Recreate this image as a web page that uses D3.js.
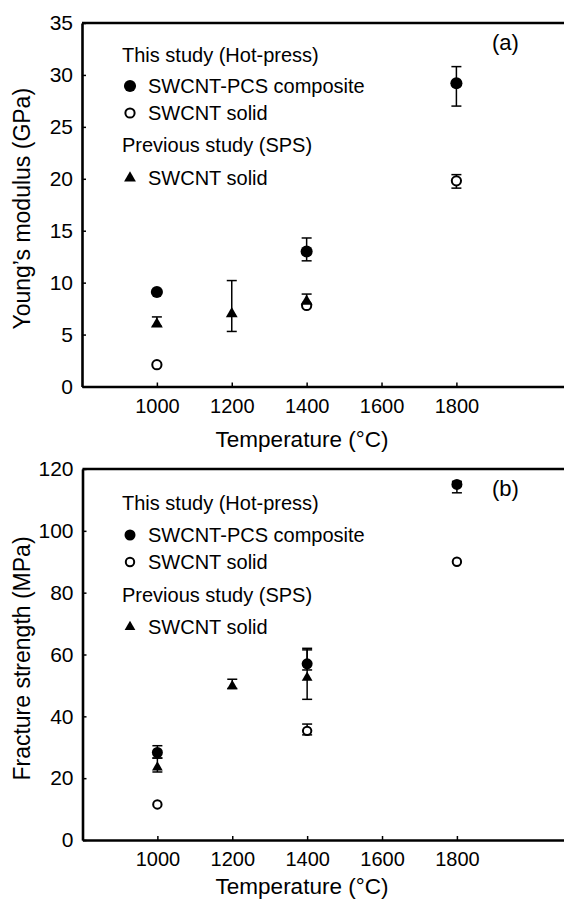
<!DOCTYPE html>
<html>
<head>
<meta charset="utf-8">
<script src="https://cdn.jsdelivr.net/npm/d3@7"></script>
<style>
  body { margin: 0; background: #fff; }
  svg { display: block; font-family: "Liberation Sans", Arial, sans-serif; }
</style>
</head>
<body>
<svg id="chart" width="564" height="901"></svg>
<script>
// temperatures (C)
var hpTemps = [1000, 1400, 1800];
var spsTemps = [1000, 1200, 1400];
var xTicks = [1000, 1200, 1400, 1600, 1800];

// (a) Young's modulus, GPa
var modComposite = [9.1, 13.0, 29.2];
var modCompositeLo = [9.1, 12.1, 27.0];
var modCompositeHi = [9.1, 14.3, 30.8];
var modSolid = [2.1, 7.8, 19.8];
var modSolidLo = [2.1, 7.8, 19.1];
var modSolidHi = [2.1, 7.8, 20.4];
var modSps = [6.0, 7.0, 8.2];
var modSpsLo = [5.8, 5.3, 7.8];
var modSpsHi = [6.7, 10.2, 8.9];
var modTicks = [0, 5, 10, 15, 20, 25, 30, 35];

// (b) fracture strength, MPa
var strComposite = [28.3, 57.0, 115.0];
var strCompositeLo = [26.5, 55.0, 112.3];
var strCompositeHi = [30.5, 61.5, 116.0];
var strSolid = [11.5, 35.3, 90.0];
var strSolidLo = [11.5, 34.0, 90.0];
var strSolidHi = [11.5, 37.5, 90.0];
var strSps = [23.5, 49.8, 52.5];
var strSpsLo = [22.0, 49.0, 45.5];
var strSpsHi = [26.5, 52.0, 62.0];
var strTicks = [0, 20, 40, 60, 80, 100, 120];

var legendText = ["This study (Hot-press)", "SWCNT-PCS composite", "SWCNT solid", "Previous study (SPS)", "SWCNT solid"];

var svg = d3.select("#chart");

function pack(xs, ys, lo, hi) {
  return xs.map(function(x, i) { return {x: x, y: ys[i], lo: lo[i], hi: hi[i]}; });
}

function drawPanel(p) {
  var x = d3.scaleLinear().domain([800, 2100]).range([p.left, p.left + 1300 * 0.3744]);
  var y = d3.scaleLinear().domain([0, p.ymax]).range([p.bottom, p.top]);
  var g = svg.append("g");

  // x axis, ticks point inward
  var xa = g.append("g")
    .attr("transform", "translate(0," + p.bottom + ")")
    .call(d3.axisBottom(x).tickValues(xTicks).tickFormat(d3.format("d")).tickSizeInner(-4).tickSizeOuter(0).tickPadding(12));
  xa.selectAll("text").attr("font-size", 20).attr("fill", "#000");

  var ya = g.append("g")
    .attr("transform", "translate(" + p.left + ",0)")
    .call(d3.axisLeft(y).tickValues(p.ticks).tickSizeInner(-4).tickSizeOuter(0).tickPadding(9));
  ya.selectAll("text").attr("font-size", 21).attr("fill", "#000");

  g.selectAll(".domain").attr("stroke", "#000").attr("stroke-width", 2.6);
  g.selectAll(".tick line").attr("stroke", "#000").attr("stroke-width", 1.5);

  // top frame line
  g.append("line")
    .attr("x1", p.left).attr("x2", 564)
    .attr("y1", p.top).attr("y2", p.top)
    .attr("stroke", "#000").attr("stroke-width", 2.6);

  // axis titles
  g.append("text")
    .attr("x", 302).attr("y", p.bottom + p.titleGap)
    .attr("text-anchor", "middle").attr("font-size", 22.5)
    .text("Temperature (\u00B0C)");
  g.append("text")
    .attr("transform", "translate(30," + ((p.top + p.bottom) / 2 + 4) + ") rotate(-90)")
    .attr("text-anchor", "middle").attr("font-size", 23)
    .text(p.ylabel);

  // panel letter
  g.append("text")
    .attr("x", 492).attr("y", p.top + 27)
    .attr("font-size", 22)
    .text(p.letter);

  var series = [
    {data: p.composite, kind: "filled"},
    {data: p.solid, kind: "open"},
    {data: p.sps, kind: "tri"}
  ];

  // error bars
  series.forEach(function(s) {
    var bars = s.data.filter(function(d) { return d.hi > d.lo; });
    var eb = g.append("g").attr("stroke", "#000").attr("stroke-width", 1.5);
    eb.selectAll(".v").data(bars).enter().append("line")
      .attr("x1", d => x(d.x)).attr("x2", d => x(d.x))
      .attr("y1", d => y(d.lo)).attr("y2", d => y(d.hi));
    eb.selectAll(".c1").data(bars).enter().append("line")
      .attr("x1", d => x(d.x) - 5).attr("x2", d => x(d.x) + 5)
      .attr("y1", d => y(d.lo)).attr("y2", d => y(d.lo));
    eb.selectAll(".c2").data(bars).enter().append("line")
      .attr("x1", d => x(d.x) - 5).attr("x2", d => x(d.x) + 5)
      .attr("y1", d => y(d.hi)).attr("y2", d => y(d.hi));
  });

  // markers
  series.forEach(function(s) {
    s.data.forEach(function(d) { marker(g, s.kind, x(d.x), y(d.y), p.msize); });
  });

  // legend
  var lx = 130, tx = 122;
  var rows = p.legendY;
  legendText.forEach(function(t, i) {
    g.append("text")
      .attr("x", (i === 0 || i === 3) ? tx : 148)
      .attr("y", rows[i] + 7)
      .attr("font-size", 20)
      .text(t);
  });
  marker(g, "filled", lx, rows[1], p.msize);
  marker(g, "open", lx, rows[2], p.msize);
  marker(g, "tri", lx, rows[4], p.msize);
}

function marker(g, kind, cx, cy, sz) {
  if (kind === "filled") {
    g.append("circle").attr("cx", cx).attr("cy", cy).attr("r", sz * 0.55).attr("fill", "#000");
  } else if (kind === "open") {
    g.append("circle").attr("cx", cx).attr("cy", cy).attr("r", sz * 0.42)
      .attr("fill", "#fff").attr("stroke", "#000").attr("stroke-width", 2);
  } else {
    g.append("path")
      .attr("d", d3.symbol().type(d3.symbolTriangle).size(sz * sz * 0.5)())
      .attr("transform", "translate(" + cx + "," + cy + ")")
      .attr("fill", "#000");
  }
}

drawPanel({
  left: 82, top: 23, bottom: 386.5, ymax: 35, ticks: modTicks, titleGap: 60,
  ylabel: "Young\u2019s modulus (GPa)", letter: "(a)", msize: 11,
  legendY: [55, 86, 113, 145, 178],
  composite: pack(hpTemps, modComposite, modCompositeLo, modCompositeHi),
  solid: pack(hpTemps, modSolid, modSolidLo, modSolidHi),
  sps: pack(spsTemps, modSps, modSpsLo, modSpsHi)
});

drawPanel({
  left: 82.5, top: 469, bottom: 840, ymax: 120, ticks: strTicks, titleGap: 54,
  ylabel: "Fracture strength (MPa)", letter: "(b)", msize: 10,
  legendY: [503, 535, 562, 595, 627],
  composite: pack(hpTemps, strComposite, strCompositeLo, strCompositeHi),
  solid: pack(hpTemps, strSolid, strSolidLo, strSolidHi),
  sps: pack(spsTemps, strSps, strSpsLo, strSpsHi)
});
</script>
</body>
</html>
